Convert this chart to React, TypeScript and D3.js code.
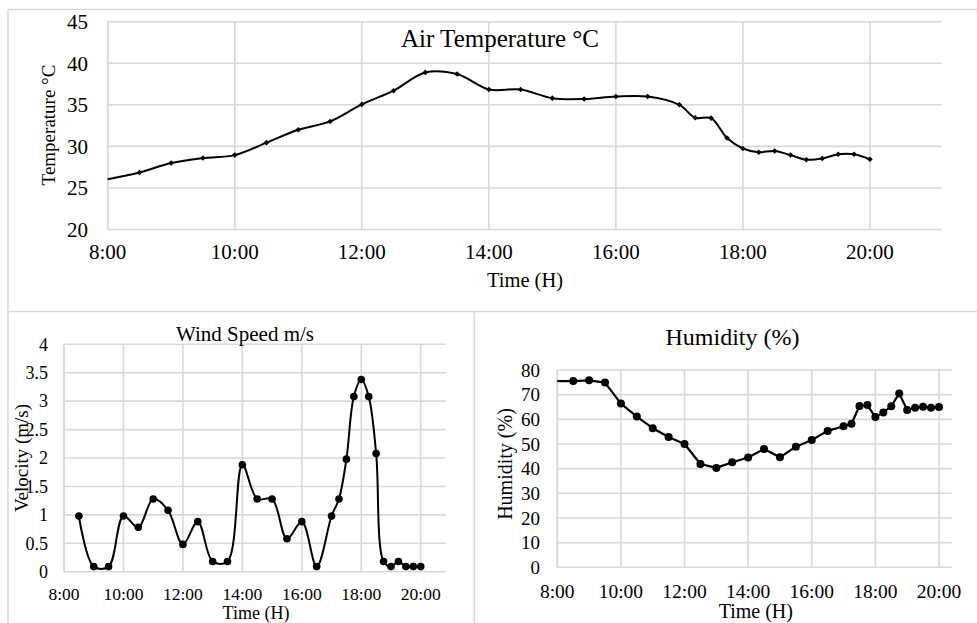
import React from 'react';
import * as d3 from 'd3';

// ---------- DATA ----------
const tempTimes = ["8:00","8:30","9:00","9:30","10:00","10:30","11:00","11:30","12:00","12:30","13:00","13:30","14:00","14:30","15:00","15:30","16:00","16:30","17:00","17:15","17:30","17:45","18:00","18:15","18:30","18:45","19:00","19:15","19:30","19:45","20:00"];
const tempValues = [26.05,26.85,28.0,28.6,28.95,30.45,32.0,33.0,35.05,36.7,38.9,38.7,36.85,36.85,35.8,35.7,36.0,36.0,35.0,33.45,33.4,31.0,29.75,29.3,29.45,28.95,28.4,28.55,29.05,29.05,28.45];

const windTimes = ["8:30","9:00","9:30","10:00","10:30","11:00","11:30","12:00","12:30","13:00","13:30","14:00","14:30","15:00","15:30","16:00","16:30","17:00","17:15","17:30","17:45","18:00","18:15","18:30","18:45","19:00","19:15","19:30","19:45","20:00"];
const windValues = [0.98,0.09,0.09,0.98,0.78,1.28,1.08,0.48,0.88,0.18,0.18,1.88,1.28,1.28,0.58,0.88,0.09,0.98,1.28,1.98,3.08,3.38,3.08,2.08,0.18,0.09,0.18,0.09,0.09,0.09];

const humTimes = ["8:00","8:30","9:00","9:30","10:00","10:30","11:00","11:30","12:00","12:30","13:00","13:30","14:00","14:30","15:00","15:30","16:00","16:30","17:00","17:15","17:30","17:45","18:00","18:15","18:30","18:45","19:00","19:15","19:30","19:45","20:00"];
const humValues = [75.5,75.5,75.8,74.9,66.4,61.1,56.4,52.8,50.0,41.9,40.3,42.6,44.5,48.0,44.6,48.9,51.6,55.3,57.2,58.2,65.4,65.8,60.9,62.8,65.3,70.5,63.8,64.7,65.1,64.7,65.0];

const xTickHours = [8, 10, 12, 14, 16, 18, 20];
const tempTicks = [20, 25, 30, 35, 40, 45];
const windTicks = [0, 0.5, 1, 1.5, 2, 2.5, 3, 3.5, 4];
const humTicks = [0, 10, 20, 30, 40, 50, 60, 70, 80];

const FONT = '"Liberation Serif", "Times New Roman", serif';
const GRID = '#d9d9d9';

const toHours = (s: string) => {
  const [h, m] = s.split(':').map(Number);
  return h + m / 60;
};

type ChartCfg = {
  times: string[];
  values: number[];
  left: number; right: number; top: number; bottom: number;
  xMax: number; yMin: number; yMax: number; yTicks: number[];
  yLabelX: number; yTickFont: number;
  xTickY: number; xTickFont: number;
  title: string; titleX: number; titleY: number; titleFont: number;
  yTitle: string; yTitleX: number; yTitleY: number; yTitleFont: number;
  xTitleX: number; xTitleY: number; xTitleFont: number;
  curve: any; marker: 'diamond' | 'circle'; markerSize: number; lineWidth: number;
  skipFirstMarker: boolean;
};

function Chart(c: ChartCfg) {
  const x = d3.scaleLinear().domain([8, c.xMax]).range([c.left, c.right]);
  const y = d3.scaleLinear().domain([c.yMin, c.yMax]).range([c.bottom, c.top]);
  const pts: [number, number][] = c.times.map((t, i) => [toHours(t), c.values[i]]);
  const line = d3.line<[number, number]>().x(d => x(d[0])).y(d => y(d[1])).curve(c.curve);
  const s = c.markerSize;
  const diamond = `M0,${-s}L${s},0L0,${s}L${-s},0Z`;
  return (
    <g>
      {c.yTicks.map(t => (
        <line key={'h' + t} x1={c.left} x2={c.right} y1={y(t)} y2={y(t)} stroke={GRID} strokeWidth={1.6} />
      ))}
      {xTickHours.map(h => (
        <line key={'v' + h} x1={x(h)} x2={x(h)} y1={c.top} y2={c.bottom} stroke={GRID} strokeWidth={1.6} />
      ))}
      <line x1={c.left} x2={c.left} y1={c.top} y2={c.bottom} stroke={GRID} strokeWidth={1.6} />
      {c.yTicks.map(t => (
        <text key={'yl' + t} x={c.yLabelX} y={y(t)} dy="0.35em" textAnchor="end" fontSize={c.yTickFont} fontFamily={FONT} fill="#000">{t}</text>
      ))}
      {xTickHours.map(h => (
        <text key={'xl' + h} x={x(h)} y={c.xTickY} textAnchor="middle" fontSize={c.xTickFont} fontFamily={FONT} fill="#000">{`${h}:00`}</text>
      ))}
      <path d={line(pts) || ''} fill="none" stroke="#000" strokeWidth={c.lineWidth} strokeLinejoin="round" />
      {pts.map((p, i) => {
        if (i === 0 && c.skipFirstMarker) return null;
        return c.marker === 'circle'
          ? <circle key={'m' + i} cx={x(p[0])} cy={y(p[1])} r={c.markerSize} fill="#000" />
          : <path key={'m' + i} d={diamond} transform={`translate(${x(p[0])},${y(p[1])})`} fill="#000" />;
      })}
      <text x={c.titleX} y={c.titleY} textAnchor="middle" fontSize={c.titleFont} fontFamily={FONT} fill="#000">{c.title}</text>
      <text transform={`translate(${c.yTitleX},${c.yTitleY}) rotate(-90)`} textAnchor="middle" fontSize={c.yTitleFont} fontFamily={FONT} fill="#000">{c.yTitle}</text>
      <text x={c.xTitleX} y={c.xTitleY} textAnchor="middle" fontSize={c.xTitleFont} fontFamily={FONT} fill="#000">Time (H)</text>
    </g>
  );
}

export default function App() {
  return (
    <svg width={977} height={623} style={{ position: 'absolute', left: 0, top: 0, background: '#fff' }}>
      <rect x={0} y={0} width={977} height={623} fill="#fff" />
      {/* panel borders */}
      <line x1={8} x2={977} y1={9.5} y2={9.5} stroke={GRID} strokeWidth={1.5} />
      <line x1={8} x2={8} y1={9.5} y2={623} stroke={GRID} strokeWidth={1.5} />
      <line x1={8} x2={977} y1={311.5} y2={311.5} stroke={GRID} strokeWidth={1.5} />
      <line x1={474.3} x2={474.3} y1={311.5} y2={623} stroke={GRID} strokeWidth={1.5} />

      <Chart
        times={tempTimes} values={tempValues}
        left={107.7} right={941.7} top={21.7} bottom={229.5}
        xMax={21.13} yMin={20} yMax={45} yTicks={tempTicks}
        yLabelX={88} yTickFont={21}
        xTickY={259} xTickFont={21}
        title="Air Temperature °C" titleX={500} titleY={46.5} titleFont={25}
        yTitle="Temperature °C" yTitleX={55} yTitleY={125} yTitleFont={19}
        xTitleX={525} xTitleY={287} xTitleFont={20.5}
        curve={d3.curveCatmullRom} marker="diamond" markerSize={2.8} lineWidth={2}
        skipFirstMarker={true}
      />
      <Chart
        times={windTimes} values={windValues}
        left={64} right={446} top={344.3} bottom={571.7}
        xMax={20.85} yMin={0} yMax={4} yTicks={windTicks}
        yLabelX={48} yTickFont={18}
        xTickY={600} xTickFont={17.5}
        title="Wind Speed m/s" titleX={245} titleY={340.7} titleFont={21}
        yTitle="Velocity (m/s)" yTitleX={28} yTitleY={458} yTitleFont={19}
        xTitleX={256} xTitleY={619} xTitleFont={18}
        curve={d3.curveCatmullRom} marker="circle" markerSize={3.8} lineWidth={2}
        skipFirstMarker={false}
      />
      <Chart
        times={humTimes} values={humValues}
        left={557.3} right={951.7} top={370} bottom={567.3}
        xMax={20.4} yMin={0} yMax={80} yTicks={humTicks}
        yLabelX={540} yTickFont={19}
        xTickY={598} xTickFont={19.5}
        title="Humidity (%)" titleX={732.5} titleY={345} titleFont={24}
        yTitle="Humidity (%)" yTitleX={511.5} yTitleY={464} yTitleFont={20}
        xTitleX={755.8} xTitleY={618} xTitleFont={20}
        curve={d3.curveLinear} marker="circle" markerSize={4} lineWidth={2.2}
        skipFirstMarker={true}
      />
    </svg>
  );
}
